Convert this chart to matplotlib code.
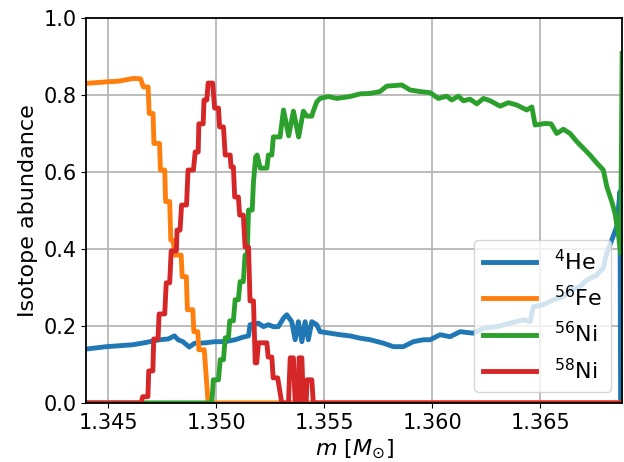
import matplotlib
matplotlib.use("Agg")
import matplotlib.pyplot as plt

# enclosed mass coordinate [M_sun] and mass fractions
m_he = [1.34370, 1.34491, 1.34614, 1.34676, 1.34738, 1.34778, 1.34807, 1.34824,
        1.34846, 1.34876, 1.34900, 1.34949, 1.34995, 1.35042, 1.35088, 1.35126,
        1.35150, 1.35157, 1.35196, 1.35219, 1.35242, 1.35265, 1.35288, 1.35312,
        1.35327, 1.35350, 1.35366, 1.35381, 1.35397, 1.35412, 1.35427, 1.35443,
        1.35466, 1.35481, 1.35528, 1.35574, 1.35620, 1.35667, 1.35713, 1.35775,
        1.35821, 1.35867, 1.35913, 1.35960, 1.35991, 1.36037, 1.36083, 1.36130,
        1.36191, 1.36238, 1.36300, 1.36361, 1.36423, 1.36454, 1.36469, 1.36515,
        1.36562, 1.36608, 1.36639, 1.36685, 1.36716, 1.36763, 1.36793, 1.36809,
        1.36832, 1.36855, 1.36870, 1.36873, 1.36880]
x_he = [0.138, 0.146, 0.151, 0.157, 0.164, 0.166, 0.174, 0.164,
        0.159, 0.145, 0.155, 0.156, 0.159, 0.159, 0.164, 0.171,
        0.174, 0.203, 0.207, 0.198, 0.203, 0.198, 0.198, 0.220,
        0.229, 0.211, 0.164, 0.211, 0.159, 0.211, 0.164, 0.211,
        0.203, 0.185, 0.181, 0.177, 0.174, 0.168, 0.164, 0.155,
        0.146, 0.146, 0.159, 0.164, 0.164, 0.177, 0.172, 0.185,
        0.181, 0.194, 0.198, 0.207, 0.216, 0.211, 0.250, 0.255,
        0.268, 0.276, 0.294, 0.302, 0.319, 0.332, 0.351, 0.389,
        0.423, 0.458, 0.549, 0.0, 0.0]

m_fe = [1.34370, 1.34491, 1.34550, 1.34616, 1.34650, 1.34663, 1.34685, 1.34690,
        1.34708, 1.34712, 1.34738, 1.34742, 1.34762, 1.34766, 1.34785, 1.34790,
        1.34800, 1.34810, 1.34838, 1.34843, 1.34862, 1.34867, 1.34892, 1.34897,
        1.34915, 1.34920, 1.34945, 1.34963, 1.36880]
x_fe = [0.829, 0.834, 0.836, 0.843, 0.842, 0.821, 0.821, 0.752,
        0.752, 0.674, 0.674, 0.605, 0.605, 0.523, 0.523, 0.423,
        0.423, 0.384, 0.384, 0.328, 0.328, 0.242, 0.242, 0.185,
        0.185, 0.138, 0.138, 0.0, 0.0]

m_ni56 = [1.34370, 1.34980, 1.34987, 1.35011, 1.35019, 1.35034, 1.35042, 1.35057,
          1.35063, 1.35080, 1.35088, 1.35103, 1.35111, 1.35126, 1.35134, 1.35144,
          1.35150, 1.35167, 1.35173, 1.35183, 1.35190, 1.35204, 1.35235, 1.35242,
          1.35258, 1.35265, 1.35296, 1.35312, 1.35336, 1.35358, 1.35382, 1.35404,
          1.35420, 1.35443, 1.35450, 1.35466, 1.35481, 1.35520, 1.35559, 1.35620,
          1.35667, 1.35713, 1.35759, 1.35790, 1.35860, 1.35898, 1.35944, 1.35991,
          1.36029, 1.36068, 1.36091, 1.36122, 1.36145, 1.36176, 1.36207, 1.36238,
          1.36269, 1.36315, 1.36353, 1.36392, 1.36438, 1.36462, 1.36477, 1.36523,
          1.36551, 1.36577, 1.36608, 1.36639, 1.36670, 1.36700, 1.36731, 1.36763,
          1.36793, 1.36809, 1.36832, 1.36847, 1.36862, 1.36873, 1.36880]
x_ni56 = [0.0, 0.0, 0.060, 0.060, 0.112, 0.112, 0.169, 0.169,
          0.213, 0.213, 0.268, 0.268, 0.315, 0.315, 0.384, 0.384,
          0.501, 0.501, 0.574, 0.639, 0.644, 0.610, 0.610, 0.644,
          0.644, 0.691, 0.691, 0.761, 0.694, 0.758, 0.691, 0.758,
          0.745, 0.745, 0.758, 0.782, 0.791, 0.796, 0.791, 0.796,
          0.803, 0.804, 0.809, 0.823, 0.826, 0.813, 0.809, 0.806,
          0.791, 0.797, 0.787, 0.797, 0.785, 0.789, 0.777, 0.791,
          0.785, 0.771, 0.780, 0.774, 0.761, 0.769, 0.722, 0.726,
          0.725, 0.700, 0.711, 0.700, 0.679, 0.662, 0.644, 0.623,
          0.605, 0.562, 0.523, 0.493, 0.441, 0.389, 0.908]

m_ni58 = [1.34370, 1.34653, 1.34660, 1.34684, 1.34688, 1.34707, 1.34711, 1.34731,
          1.34736, 1.34762, 1.34769, 1.34785, 1.34792, 1.34816, 1.34819, 1.34833,
          1.34840, 1.34863, 1.34870, 1.34895, 1.34903, 1.34917, 1.34920, 1.34940,
          1.34944, 1.34957, 1.34963, 1.34984, 1.34993, 1.35011, 1.35016, 1.35034,
          1.35042, 1.35065, 1.35069, 1.35080, 1.35086, 1.35103, 1.35109, 1.35126,
          1.35134, 1.35150, 1.35157, 1.35173, 1.35181, 1.35188, 1.35196, 1.35235,
          1.35241, 1.35258, 1.35264, 1.35285, 1.35304, 1.35335, 1.35343, 1.35358,
          1.35366, 1.35381, 1.35384, 1.35397, 1.35404, 1.35417, 1.35421, 1.35443,
          1.35450, 1.36880]
x_ni58 = [0.0, 0.0, 0.016, 0.016, 0.083, 0.083, 0.166, 0.166,
          0.231, 0.231, 0.312, 0.312, 0.395, 0.395, 0.449, 0.449,
          0.514, 0.514, 0.605, 0.605, 0.652, 0.652, 0.725, 0.725,
          0.787, 0.787, 0.831, 0.831, 0.766, 0.766, 0.717, 0.717,
          0.644, 0.644, 0.613, 0.613, 0.535, 0.535, 0.488, 0.488,
          0.405, 0.405, 0.265, 0.265, 0.104, 0.104, 0.156, 0.156,
          0.119, 0.119, 0.065, 0.065, 0.0, 0.0, 0.117, 0.117,
          0.0, 0.0, 0.117, 0.117, 0.0, 0.0, 0.060, 0.060,
          0.0, 0.0]

series = [
    (m_he, x_he, r'$^{4}$He'),
    (m_fe, x_fe, r'$^{56}$Fe'),
    (m_ni56, x_ni56, r'$^{56}$Ni'),
    (m_ni58, x_ni58, r'$^{58}$Ni'),
]

plt.rcParams['font.size'] = 16
plt.rcParams['xtick.labelsize'] = 15
plt.rcParams['ytick.labelsize'] = 15

fig, ax = plt.subplots(figsize=(6.24, 4.62), dpi=100)
fig.subplots_adjust(left=0.138, right=0.997, top=0.961, bottom=0.128)

for m, x, label in series:
    ax.plot(m, x, lw=3.5, label=label)

ax.set_xlim(1.34398, 1.36880)
ax.set_ylim(0.0, 1.0)
ax.set_xticks([1.345, 1.350, 1.355, 1.360, 1.365])
ax.grid(True, color='#b0b0b0', lw=1.2)
ax.set_xlabel(r'$m\ [M_{\odot}]$')
ax.set_ylabel('Isotope abundance')
for sp in ax.spines.values():
    sp.set_linewidth(1.3)

ax.legend(loc='lower right', handlelength=2.4)

fig.savefig('out.png', dpi=100)
